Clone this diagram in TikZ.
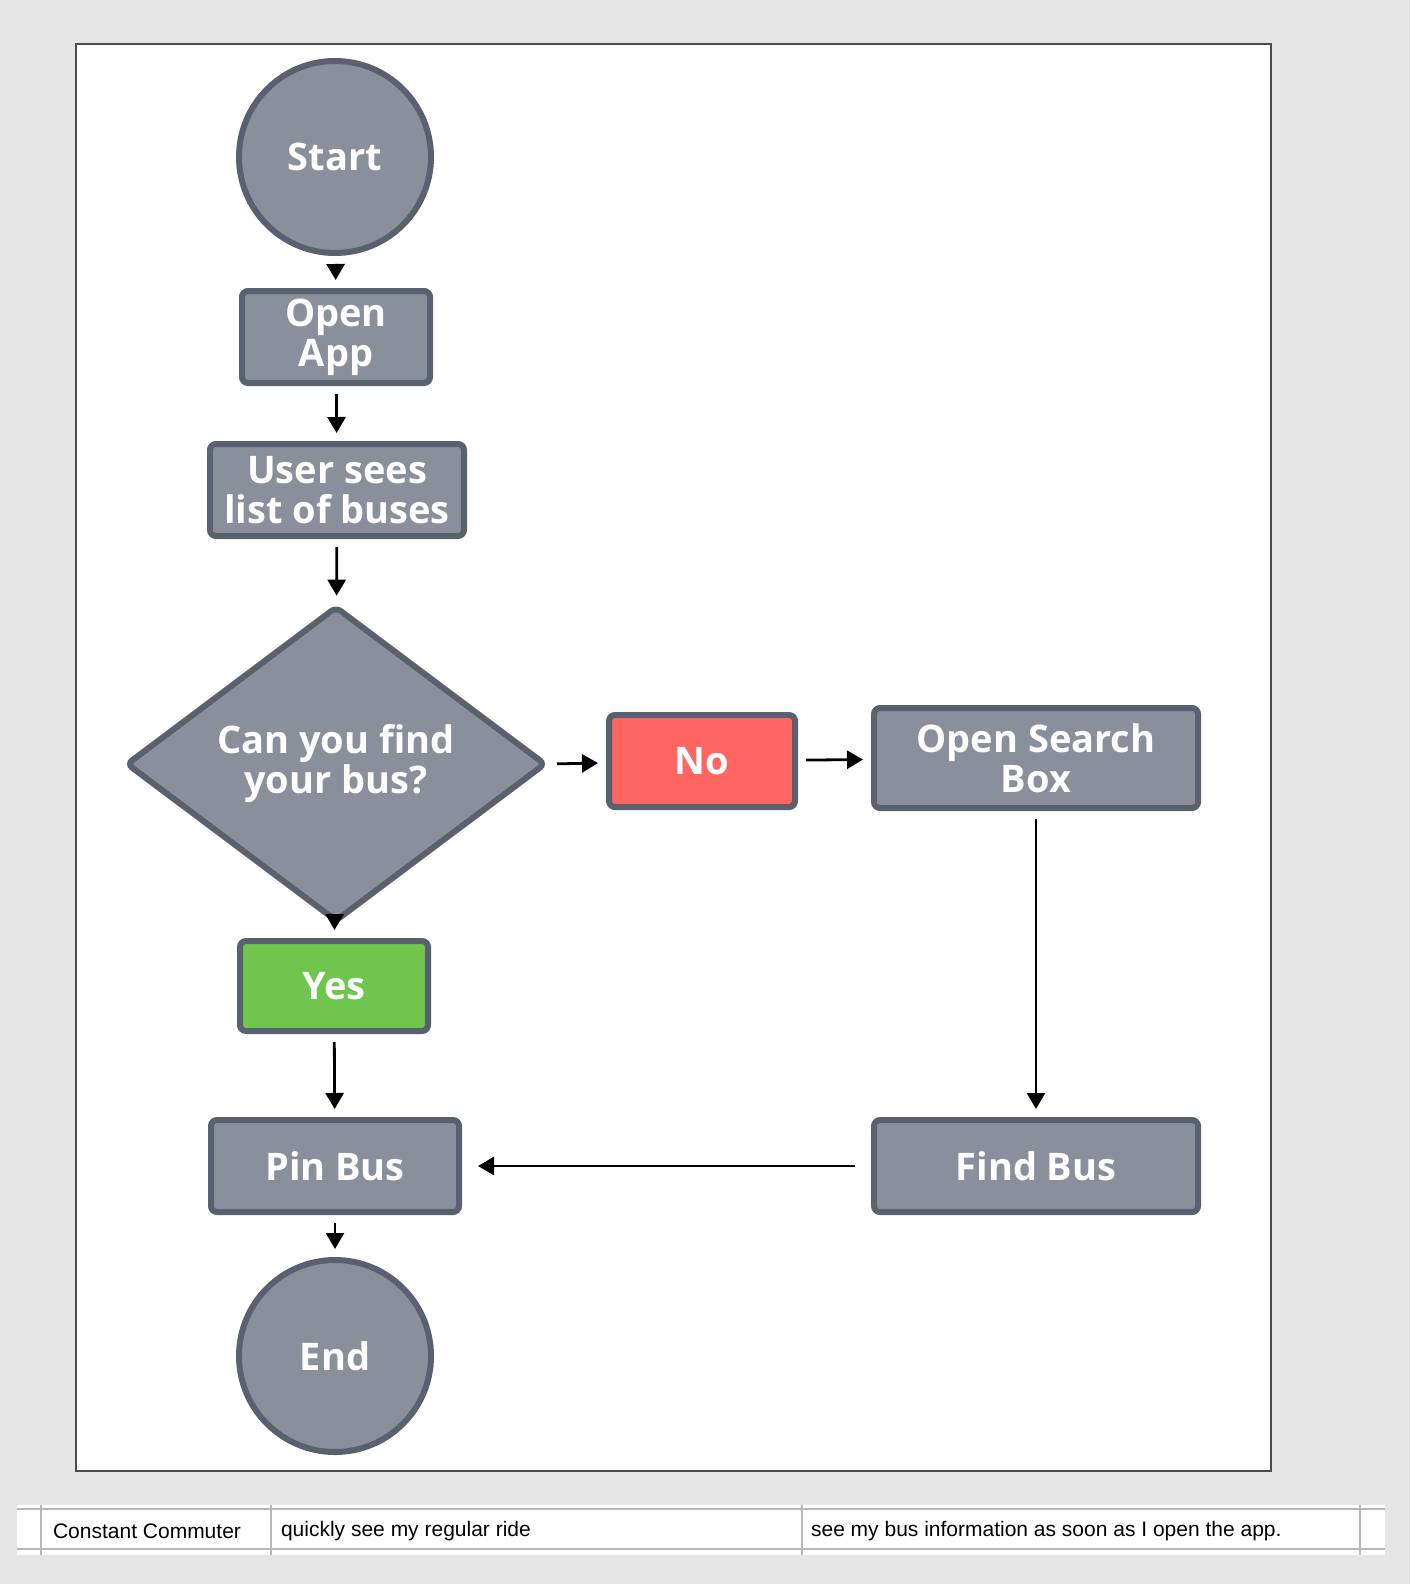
\documentclass[tikz,border=0pt]{standalone}
\usepackage{fontspec}
\setmainfont{Liberation Sans}
\newfontfamily\nodefont{Open Sans}
\usetikzlibrary{shapes.geometric,arrows.meta}
\definecolor{nfill}{HTML}{8A909B}
\definecolor{nedge}{HTML}{596170}
\definecolor{bg}{HTML}{E5E5E5}
\definecolor{nored}{HTML}{FF6661}
\definecolor{yesgreen}{HTML}{6FC54E}
\begin{document}
\begin{tikzpicture}[x=0.5pt,y=-0.5pt,
  base/.style={draw=nedge,line width=3pt,fill=nfill,text=white,font=\nodefont\bfseries\fontsize{19}{20}\selectfont,align=center,inner sep=0pt},
  box/.style={base,rectangle,rounded corners=3pt},
  circ/.style={base,circle,minimum size=96pt},
  arr/.style={-{Triangle[length=8pt,width=9pt]},line width=1.4pt,shorten <=4pt,shorten >=4pt}]
\useasboundingbox (0,0) rectangle (1410,1584);
\fill[bg] (0,0) rectangle (1410,1584);
\draw[fill=white,draw=black!70,line width=0.6pt] (76,44) rectangle (1271,1471);
% table strip
\fill[white] (17,1505) rectangle (1385,1555);
\draw[bg!80!black,line width=1pt] (17,1509)--(1385,1509) (17,1549)--(1385,1549);
\foreach \x in {41,271,802,1360}{\draw[bg!80!black,line width=1pt] (\x,1505)--(\x,1555);}
\node[anchor=west,font=\fontsize{10.5}{12}\selectfont] (t1) at (46,1531) {Constant Commuter};
\node[anchor=west,font=\fontsize{10.5}{12}\selectfont] (t2) at (274,1531) {quickly see my regular ride};
\node[anchor=west,font=\fontsize{10.5}{12}\selectfont] (t3) at (804,1531) {see my bus information as soon as I open the app.};
% nodes
\node[circ] (start) at (335,157) {Start};
\node[box,minimum width=94pt,minimum height=46pt] (open) at (336,337) {Open\\App};
\node[box,minimum width=127pt,minimum height=46pt] (list) at (337,490) {User sees\\list of buses};
\node[base,diamond,minimum width=210pt,minimum height=134pt,rounded corners=3pt] (dec) at (336,764) {Can you find\\your bus?};
\node[box,fill=nored,minimum width=93pt,minimum height=46pt] (no) at (702,761) {No};
\node[box,minimum width=162pt,minimum height=50pt] (search) at (1036,758) {Open Search\\Box};
\node[box,fill=yesgreen,minimum width=94pt,minimum height=45pt] (yes) at (334,986) {Yes};
\node[box,minimum width=124pt,minimum height=46pt] (pin) at (335,1166) {Pin Bus};
\node[box,minimum width=162pt,minimum height=46pt] (find) at (1036,1166) {Find Bus};
\node[circ] (end) at (335,1356) {End};
% arrows
\draw[arr] (start) -- (open);
\draw[arr] (open) -- (list);
\draw[arr] (list) -- (dec);
\draw[arr] (dec.east) -- (no);
\draw[arr] (no) -- (search);
\draw[arr] (dec) -- (yes);
\draw[arr] (search) -- (find);
\draw[arr] (yes) -- (pin);
\draw[arr,shorten >=8pt,shorten <=8pt] (find) -- (pin);
\draw[arr] (pin) -- (end);
\end{tikzpicture}
\end{document}
